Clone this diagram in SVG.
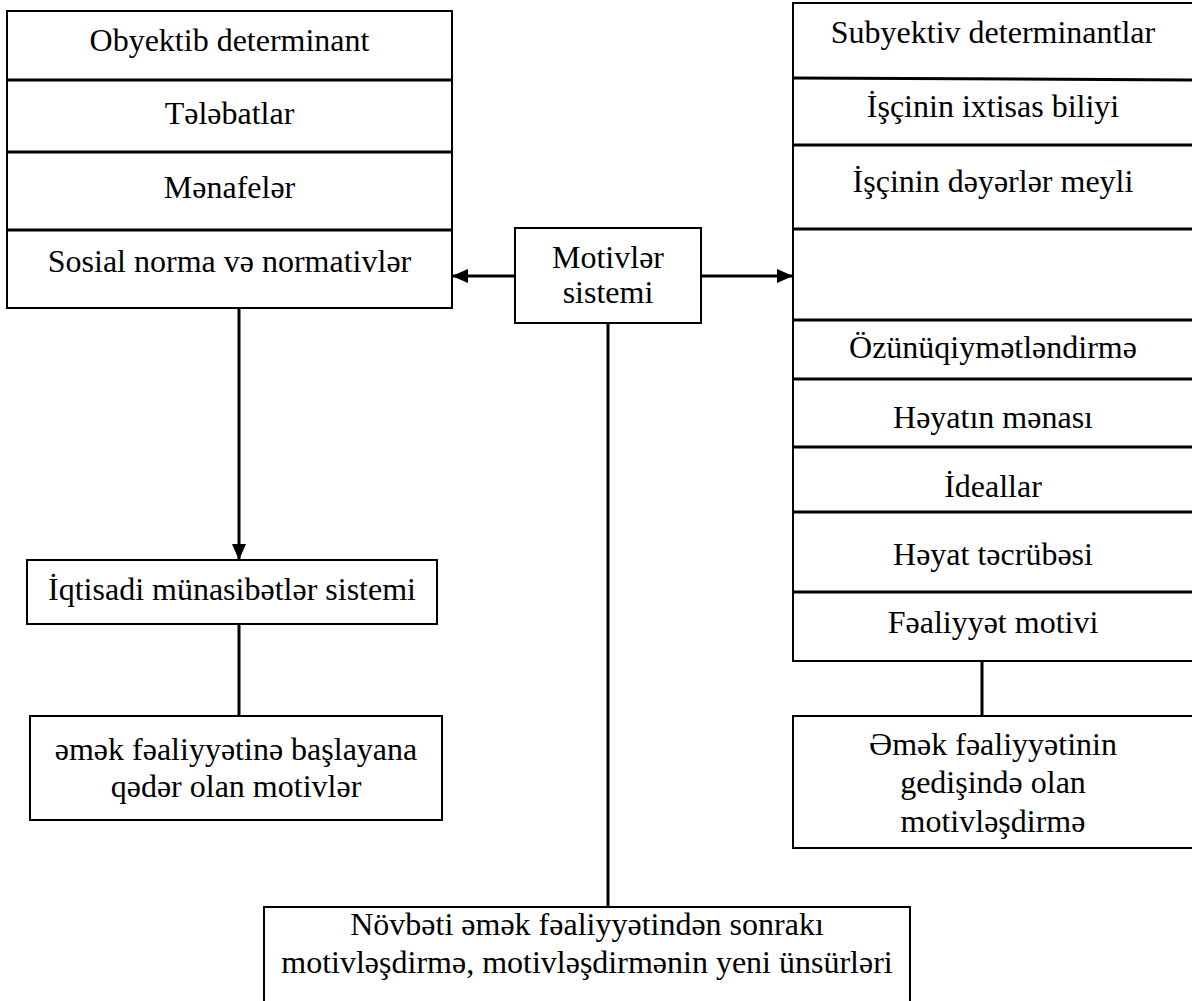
<svg xmlns="http://www.w3.org/2000/svg" width="1192" height="1001" viewBox="0 0 1192 1001">
<style>
.box{fill:#fff;stroke:#000;stroke-width:2}
.div{stroke:#000;stroke-width:3}
.t{font-family:"Liberation Serif","Times New Roman",serif;font-size:32px;fill:#000;text-anchor:middle}
.con{stroke:#000;stroke-width:3;fill:none}
</style>
<defs>
<marker id="ah" markerWidth="16" markerHeight="14" refX="15" refY="7" orient="auto" markerUnits="userSpaceOnUse">
<path d="M0,0 L16,7 L0,14 Z" fill="#000"/>
</marker>
</defs>
<rect width="1192" height="1001" fill="#fff"/>
<g id="connectors">
<line class="con" x1="515" y1="276" x2="453" y2="276" marker-end="url(#ah)"/>
<line class="con" x1="701" y1="276" x2="792" y2="276" marker-end="url(#ah)"/>
<line class="con" x1="239" y1="309" x2="239" y2="559" marker-end="url(#ah)"/>
<line class="con" x1="239" y1="624" x2="239" y2="716"/>
<line class="con" x1="982" y1="662" x2="982" y2="716"/>
<line class="con" x1="608" y1="323" x2="608" y2="907"/>
</g>
<g id="objective">
<rect class="box" x="7" y="11" width="445" height="297"/>
<line class="div" x1="7" y1="80" x2="452" y2="80"/>
<line class="div" x1="7" y1="152" x2="452" y2="152"/>
<line class="div" x1="7" y1="230" x2="452" y2="230"/>
<text class="t" x="229.5" y="51">Obyektib determinant</text>
<text class="t" x="229.5" y="124">Tələbatlar</text>
<text class="t" x="229.5" y="198">Mənafelər</text>
<text class="t" x="229.5" y="272">Sosial norma və normativlər</text>
</g>
<g id="motives">
<rect class="box" x="515" y="228" width="186" height="95"/>
<text class="t" x="608" y="268">Motivlər</text>
<text class="t" x="608" y="303">sistemi</text>
</g>
<g id="subjective">
<rect class="box" x="793" y="3" width="402" height="658"/>
<line class="div" x1="793" y1="78" x2="1195" y2="80"/>
<line class="div" x1="793" y1="145" x2="1195" y2="145"/>
<line class="div" x1="793" y1="229" x2="1195" y2="229"/>
<line class="div" x1="793" y1="320" x2="1195" y2="320"/>
<line class="div" x1="793" y1="379" x2="1195" y2="379"/>
<line class="div" x1="793" y1="447" x2="1195" y2="447"/>
<line class="div" x1="793" y1="512" x2="1195" y2="512"/>
<line class="div" x1="793" y1="592" x2="1195" y2="592"/>
<text class="t" x="993" y="43">Subyektiv determinantlar</text>
<text class="t" x="993" y="117">İşçinin ixtisas biliyi</text>
<text class="t" x="993" y="192">İşçinin dəyərlər meyli</text>
<text class="t" x="993" y="358">Özünüqiymətləndirmə</text>
<text class="t" x="993" y="428">Həyatın mənası</text>
<text class="t" x="993" y="497">İdeallar</text>
<text class="t" x="993" y="565">Həyat təcrübəsi</text>
<text class="t" x="993" y="633">Fəaliyyət motivi</text>
</g>
<g id="economic">
<rect class="box" x="27" y="560" width="410" height="64"/>
<text class="t" x="232" y="600">İqtisadi münasibətlər sistemi</text>
</g>
<g id="before">
<rect class="box" x="30" y="716" width="412" height="104"/>
<text class="t" x="236" y="760">əmək fəaliyyətinə başlayana</text>
<text class="t" x="236" y="797">qədər olan motivlər</text>
</g>
<g id="during">
<rect class="box" x="793" y="716" width="402" height="132"/>
<text class="t" x="993" y="755">Əmək fəaliyyətinin</text>
<text class="t" x="993" y="793">gedişində olan</text>
<text class="t" x="993" y="832">motivləşdirmə</text>
</g>
<g id="after">
<path class="box" d="M264,1003 L264,907 L910,907 L910,1003"/>
<text class="t" x="587" y="935">Növbəti əmək fəaliyyətindən sonrakı</text>
<text class="t" x="587" y="973">motivləşdirmə, motivləşdirmənin yeni ünsürləri</text>
</g>
</svg>
